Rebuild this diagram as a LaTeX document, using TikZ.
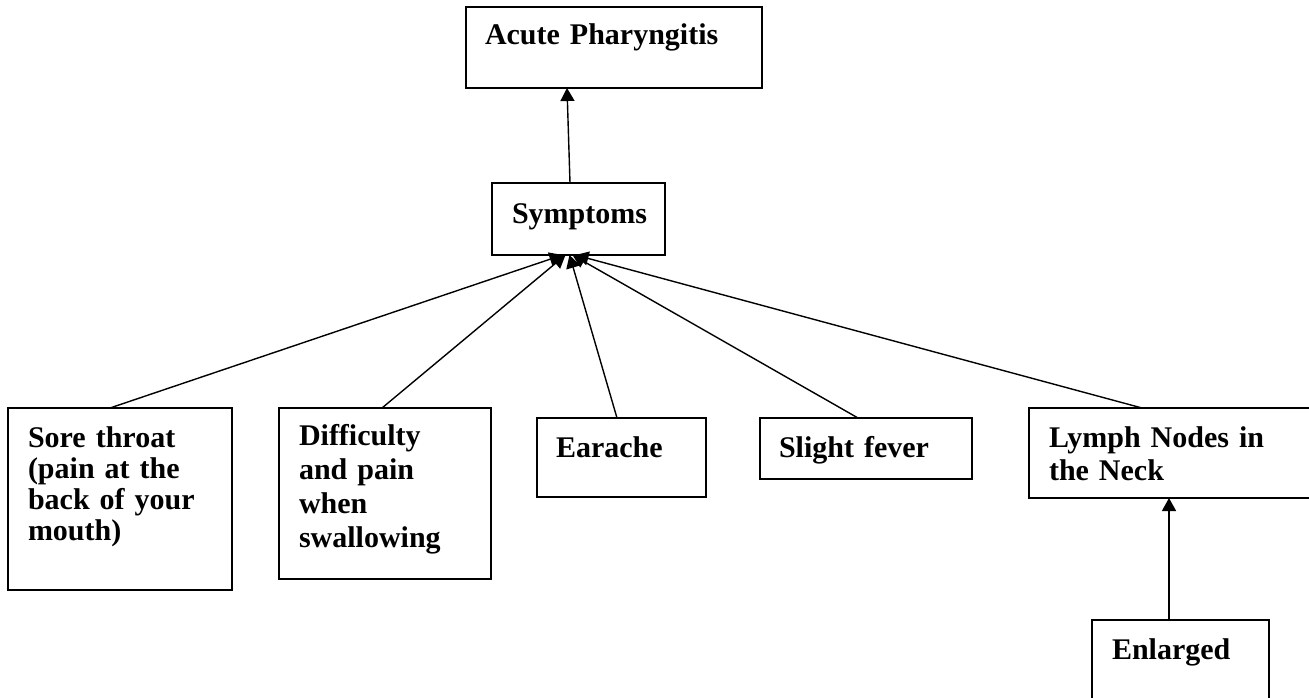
\documentclass[tikz,border=0pt]{standalone}
\usepackage{fontspec}
\setmainfont{Liberation Serif}
\usetikzlibrary{arrows.meta}
\begin{document}
\begin{tikzpicture}[x=1pt,y=-1pt,
  box/.style={draw=black,line width=1.6pt,rectangle,inner sep=0pt,outer sep=0pt,anchor=north west},
  lbl/.style={inner sep=0pt,outer sep=0pt,anchor=base west,align=left,text width=#1,font=\bfseries\fontsize{30}{31}\selectfont},
  lbl/.default=300pt,
  link/.style={draw=black,line width=1.4pt,-{Triangle[length=13pt,width=14pt]}}]
\useasboundingbox (0,0) rectangle (1309,698);
\clip (0,0) rectangle (1309,698);

% boxes
\node[box,minimum width=296pt,minimum height=81pt] (acu) at (466,7) {};
\node[box,minimum width=173pt,minimum height=72pt] (sym) at (492,183) {};
\node[box,minimum width=224pt,minimum height=182pt] (sore) at (8,408) {};
\node[box,minimum width=212pt,minimum height=171pt] (diff) at (279,408) {};
\node[box,minimum width=169pt,minimum height=79pt] (ear) at (537,418) {};
\node[box,minimum width=212pt,minimum height=61pt] (fev) at (760,418) {};
\node[box,minimum width=300pt,minimum height=90pt] (lym) at (1029,408) {};
\node[box,minimum width=177pt,minimum height=110pt] (enl) at (1092,620) {};

% labels
\node[lbl] (acuT) at (485,45) {Acute Pharyngitis};
\node[lbl] (symT) at (512,223) {Symptoms};
\node[lbl,font=\bfseries\fontsize{30}{31}\selectfont] (soreT) at (28,447)
  {Sore throat\\(pain at the\\back of your\\mouth)};
\node[lbl,font=\bfseries\fontsize{30}{34}\selectfont] (diffT) at (299,445)
  {Difficulty\\and pain\\when\\swallowing};
\node[lbl] (earT) at (556,457) {Earache};
\node[lbl] (fevT) at (779,457) {Slight fever};
\node[lbl,font=\bfseries\fontsize{30}{33}\selectfont] (lymT) at (1049,447)
  {Lymph Nodes in\\the Neck};
\node[lbl] (enlT) at (1112,659) {Enlarged};

% connectors
\draw[link] ([xshift=-8.5pt]sym.north) -- ([xshift=-47pt]acu.south);
\draw[link] ([xshift=102pt]sore.north west) -- ([xshift=-16pt]sym.south);
\draw[link] ([xshift=103pt]diff.north west) -- ([xshift=-13pt]sym.south);
\draw[link] ([xshift=80pt]ear.north west) -- ([xshift=-9pt]sym.south);
\draw[link] ([xshift=98pt]fev.north west) -- ([xshift=-6pt]sym.south);
\draw[link] ([xshift=113pt]lym.north west) -- ([xshift=-3pt]sym.south);
\draw[link] ([xshift=77pt]enl.north west) -- ([xshift=140pt]lym.south west);
\end{tikzpicture}
\end{document}
